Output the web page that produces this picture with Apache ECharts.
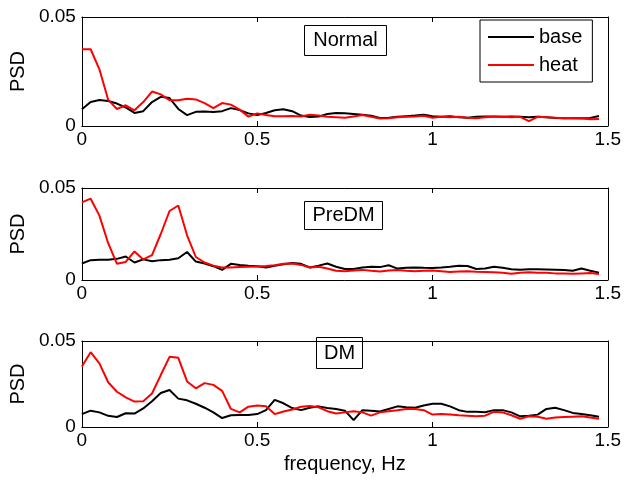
<!DOCTYPE html>
<html>
<head>
<meta charset="utf-8">
<script src="https://cdn.jsdelivr.net/npm/echarts@6/dist/echarts.min.js"></script>
<style>html,body{margin:0;padding:0;background:#fff;}#c{width:624px;height:489px;}</style>
</head>
<body>
<div id="c"></div>
<script>
const freq = [0,0.025,0.05,0.075,0.1,0.125,0.15,0.175,0.2,0.225,0.25,0.275,0.3,0.325,0.35,0.375,0.4,0.425,0.45,0.475,0.5,0.525,0.55,0.575,0.6,0.625,0.65,0.675,0.7,0.725,0.75,0.775,0.8,0.825,0.85,0.875,0.9,0.925,0.95,0.975,1.0,1.025,1.05,1.075,1.1,1.125,1.15,1.175,1.2,1.225,1.25,1.275,1.3,1.325,1.35,1.375,1.4,1.425,1.45,1.475];

const normalBase = [0.0077,0.011,0.0119,0.0115,0.0103,0.0085,0.006,0.0068,0.011,0.0134,0.0128,0.0078,0.005,0.0065,0.0067,0.0064,0.0068,0.0082,0.0073,0.0058,0.005,0.006,0.0072,0.0077,0.0068,0.0048,0.0041,0.0043,0.0055,0.006,0.0058,0.0055,0.0052,0.0047,0.0037,0.0038,0.0042,0.0045,0.0048,0.0052,0.0045,0.0043,0.0045,0.004,0.0038,0.0042,0.0044,0.0044,0.0042,0.0044,0.0042,0.004,0.0042,0.004,0.0037,0.0036,0.0036,0.0035,0.0037,0.0046];
const normalHeat = [0.0352,0.0352,0.026,0.012,0.0078,0.0095,0.0072,0.011,0.0158,0.0145,0.0118,0.0118,0.0125,0.0122,0.0105,0.0082,0.0105,0.0098,0.0075,0.0043,0.0058,0.005,0.0045,0.0045,0.0046,0.0044,0.0052,0.0048,0.0042,0.004,0.0038,0.0044,0.005,0.0042,0.0034,0.0036,0.004,0.0042,0.0044,0.0047,0.0038,0.0042,0.004,0.0042,0.0038,0.0036,0.004,0.0042,0.0042,0.004,0.0042,0.0022,0.0042,0.004,0.0038,0.0035,0.0036,0.0034,0.0031,0.0032];

const predmBase = [0.009,0.0108,0.011,0.011,0.0115,0.0128,0.0095,0.0112,0.0102,0.0108,0.011,0.0118,0.0152,0.01,0.009,0.0075,0.0055,0.0088,0.0082,0.0078,0.0075,0.0068,0.0078,0.0085,0.0092,0.0088,0.0068,0.0078,0.009,0.0072,0.006,0.006,0.0068,0.0072,0.007,0.008,0.0062,0.0066,0.0068,0.0066,0.0065,0.0068,0.0072,0.0078,0.0076,0.006,0.0062,0.0072,0.0066,0.0058,0.0056,0.0058,0.0058,0.0057,0.0056,0.0054,0.005,0.0062,0.005,0.004];
const predmHeat = [0.0422,0.0442,0.035,0.02,0.0088,0.0098,0.0155,0.0112,0.0135,0.025,0.0375,0.0405,0.0243,0.0125,0.0095,0.0078,0.0068,0.0068,0.007,0.0072,0.0074,0.0076,0.008,0.0088,0.009,0.0082,0.0068,0.0072,0.0062,0.005,0.0048,0.0052,0.0055,0.005,0.0046,0.0052,0.0054,0.005,0.0048,0.005,0.0052,0.0048,0.0044,0.0046,0.0048,0.0045,0.0044,0.0042,0.004,0.0034,0.004,0.0042,0.004,0.0039,0.0036,0.0035,0.0034,0.0036,0.0038,0.0033];

const dmBase = [0.0075,0.0095,0.0085,0.0065,0.0058,0.008,0.0078,0.0108,0.015,0.0198,0.0215,0.0165,0.0155,0.0135,0.0112,0.0085,0.0052,0.0068,0.007,0.007,0.0075,0.0098,0.0158,0.0138,0.011,0.0098,0.0112,0.012,0.011,0.0105,0.0095,0.004,0.0098,0.0095,0.009,0.0105,0.012,0.0115,0.0112,0.0125,0.0135,0.0135,0.012,0.0098,0.0088,0.0088,0.0086,0.0098,0.0098,0.0085,0.0062,0.0065,0.0072,0.0105,0.0112,0.0098,0.0082,0.0075,0.0068,0.006];
const dmHeat = [0.0352,0.0435,0.037,0.026,0.0205,0.0172,0.0148,0.015,0.0195,0.0302,0.0408,0.0402,0.0265,0.0225,0.0255,0.0245,0.021,0.0105,0.0085,0.0118,0.0125,0.012,0.0075,0.009,0.0102,0.0118,0.0122,0.0115,0.0092,0.0078,0.0085,0.0092,0.0085,0.0066,0.0085,0.0092,0.0098,0.0105,0.0105,0.0098,0.0072,0.0075,0.0072,0.0068,0.0066,0.0062,0.0066,0.0088,0.0085,0.0068,0.0048,0.0062,0.006,0.0048,0.0055,0.0058,0.006,0.0062,0.0055,0.0048];

const panelTitles = ['Normal', 'PreDM', 'DM'];
const seriesNames = ['base', 'heat'];
const xTicks = [0, 0.5, 1, 1.5];
const yTicks = [0, 0.05];

const panels = [
  {base: normalBase, heat: normalHeat},
  {base: predmBase, heat: predmHeat},
  {base: dmBase, heat: dmHeat}
];

const FONT = 'Liberation Sans, Arial, sans-serif';
const grids = [
  {left: 79, right: 16, top: 17, height: 109},
  {left: 79, right: 16, top: 188, height: 92},
  {left: 79, right: 16, top: 341, height: 86}
];

const xAxes = [], yAxes = [], series = [];
grids.forEach((g, i) => {
  xAxes.push({
    type: 'value', gridIndex: i, min: 0, max: 1.5, interval: 0.5, position: 'bottom',
    axisLine: {show: true, onZero: false, lineStyle: {color: '#000', width: 1}},
    axisTick: {show: true, inside: true, length: 5, lineStyle: {color: '#000'}},
    axisLabel: {show: true, color: '#000', fontSize: 19, fontFamily: FONT, margin: 4,
      formatter: v => xTicks.includes(v) ? String(v) : ''},
    splitLine: {show: false},
    name: i === 2 ? 'frequency, Hz' : '', nameLocation: 'middle', nameGap: 27,
    nameTextStyle: {color: '#000', fontSize: 20, fontFamily: FONT}
  });
  xAxes.push({
    type: 'value', gridIndex: i, min: 0, max: 1.5, interval: 0.5, position: 'top',
    axisLine: {show: true, onZero: false, lineStyle: {color: '#000', width: 1}},
    axisTick: {show: true, inside: true, length: 5, lineStyle: {color: '#000'}},
    axisLabel: {show: false}, splitLine: {show: false}
  });
  yAxes.push({
    type: 'value', gridIndex: i, min: 0, max: 0.05, interval: 0.05, position: 'left',
    axisLine: {show: true, onZero: false, lineStyle: {color: '#000', width: 1}},
    axisTick: {show: true, inside: true, length: 5, lineStyle: {color: '#000'}},
    axisLabel: {show: true, color: '#000', fontSize: 19, fontFamily: FONT, margin: 6,
      formatter: v => yTicks.includes(v) ? String(v) : ''},
    splitLine: {show: false},
    name: 'PSD', nameLocation: 'middle', nameGap: 45, nameRotate: 90,
    nameTextStyle: {color: '#000', fontSize: 20, fontFamily: FONT}
  });
  yAxes.push({
    type: 'value', gridIndex: i, min: 0, max: 0.05, interval: 0.05, position: 'right',
    axisLine: {show: true, onZero: false, lineStyle: {color: '#000', width: 1}},
    axisTick: {show: true, inside: true, length: 5, lineStyle: {color: '#000'}},
    axisLabel: {show: false}, splitLine: {show: false}
  });
  const p = panels[i];
  [['base', p.base, '#000000'], ['heat', p.heat, '#ff0000']].forEach(([nm, arr, col]) => {
    series.push({
      name: nm, type: 'line', xAxisIndex: i * 2, yAxisIndex: i * 2,
      data: freq.map((f, k) => [f, arr[k]]),
      showSymbol: false, symbol: 'none', smooth: false,
      lineStyle: {color: col, width: 2}, itemStyle: {color: col},
      animation: false, z: nm === 'heat' ? 3 : 2
    });
  });
});

function textBox(label, x, y, w, h) {
  return {
    type: 'group', left: x, top: y, z: 100,
    children: [
      {type: 'rect', shape: {x: 0, y: 0, width: w, height: h},
       style: {fill: '#fff', stroke: '#000', lineWidth: 1}},
      {type: 'text', x: w / 2, y: h / 2,
       style: {text: label, fill: '#000', font: '20px ' + FONT, textAlign: 'center', textVerticalAlign: 'middle'}}
    ]
  };
}

const chart = echarts.init(document.getElementById('c'), null, {renderer: 'canvas'});
chart.setOption({
  animation: false,
  backgroundColor: '#fff',
  grid: grids,
  xAxis: xAxes,
  yAxis: yAxes,
  legend: {
    data: seriesNames, orient: 'vertical', left: 480, top: 20,
    backgroundColor: '#fff', borderColor: '#000', borderWidth: 1,
    padding: [7, 10, 7, 8], itemGap: 8, itemWidth: 46, itemHeight: 14,
    textStyle: {color: '#000', fontSize: 20, fontFamily: FONT},
    icon: 'path://M0,6 L46,6 L46,8 L0,8 Z',
    selectedMode: false
  },
  graphic: [
    textBox(panelTitles[0], 304, 25, 82, 30),
    textBox(panelTitles[1], 304, 201, 78, 28),
    textBox(panelTitles[2], 316, 337, 46, 31)
  ],
  series: series
});
</script>
</body>
</html>
